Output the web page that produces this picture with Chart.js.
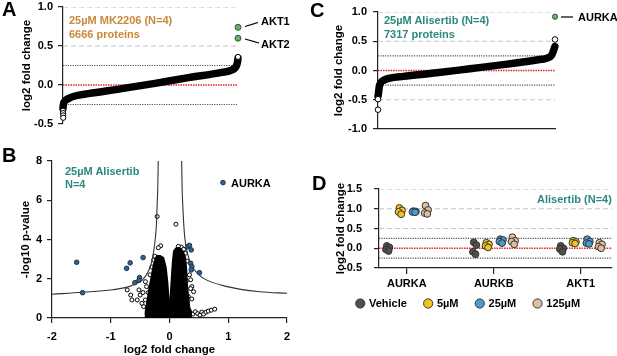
<!DOCTYPE html>
<html>
<head>
<meta charset="utf-8">
<title>proteomics panels</title>
<script src="https://cdn.jsdelivr.net/npm/chart.js@4.4.1/dist/chart.umd.min.js"></script>
<style>
  html, body { margin: 0; padding: 0; background: #fff; }
  body { position: relative; width: 617px; height: 356px; overflow: hidden;
         font-family: "Liberation Sans", Arial, sans-serif; }
  canvas { position: absolute; }
  .lbl { position: absolute; font-weight: bold; white-space: nowrap; line-height: 1; }
  svg { position: absolute; left: 0; top: 0; }
</style>
</head>
<body>
<canvas id="chartA" width="300" height="140" style="left:0px;top:0px"></canvas>
<canvas id="chartB" width="300" height="206" style="left:0px;top:150px"></canvas>
<canvas id="chartC" width="317" height="140" style="left:300px;top:0px"></canvas>
<canvas id="chartD" width="297" height="117" style="left:320px;top:175px"></canvas>
<canvas id="legendD" width="297" height="90" style="left:320px;top:280px"></canvas>
<svg width="617" height="356">
  <!-- leader lines for the labelled hits -->
  <g stroke="#000" stroke-width="1.2">
    <line x1="245" y1="26.5" x2="258" y2="22.5"/>
    <line x1="245" y1="39" x2="259" y2="43"/>
    <line x1="561" y1="17" x2="573" y2="17"/>
  </g>
</svg>
<script>
// ---------- data ----------

// A : ranked log2 fold change, 25uM MK2206
const nA = 6666;
const rankA = [0, 15, 76, 203, 457, 964, 2235, 3505, 4774, 6045, 6426, 6616, 6655, 6666];
const lfcA = [-0.30, -0.25, -0.205, -0.175, -0.141, -0.111, -0.047, 0.021, 0.094, 0.162, 0.192, 0.256, 0.31, 0.342];
const tailRankA = [0, 3, 6, 9, 6666];
const tailLfcA = [-0.33, -0.36, -0.39, -0.42, 0.36];
const hitRankA = [6666, 6666];   // AKT1, AKT2
const hitLfcA = [0.74, 0.60];

// C : ranked log2 fold change, 25uM Alisertib
const nC = 7317;
const rankC = [0, 14, 55, 110, 219, 496, 1047, 2425, 3802, 5179, 6557, 6970, 7177, 7272, 7310];
const lfcC = [-0.44, -0.41, -0.27, -0.21, -0.17, -0.13, -0.10, -0.04, 0.03, 0.10, 0.18, 0.21, 0.26, 0.36, 0.41];
const tailRankC = [0, 0, 7317];
const tailLfcC = [-0.67, -0.49, 0.53];
const hitRankC = [7317];         // AURKA
const hitLfcC = [0.92];

// B : volcano, 25uM Alisertib
const curveLeftB = [[-2.0, 1.21], [-1.48, 1.31], [-0.97, 1.44], [-0.69, 1.60], [-0.55, 1.78], [-0.46, 1.94],
  [-0.35, 2.45], [-0.30, 2.90], [-0.27, 3.38], [-0.24, 4.10], [-0.22, 4.90], [-0.21, 5.80], [-0.20, 6.60], [-0.19, 8.30]];
const curveRightB = [[0.205, 8.30], [0.215, 6.60], [0.225, 5.80], [0.24, 4.90], [0.26, 4.10], [0.30, 3.38],
  [0.34, 2.95], [0.385, 2.62], [0.47, 2.30], [0.58, 2.02], [0.98, 1.60], [1.54, 1.34], [2.0, 1.26]];
const cloudB = [[-0.40, 0], [-0.40, 0.35], [-0.37, 0.9], [-0.34, 1.5], [-0.30, 2.1], [-0.27, 2.6], [-0.24, 2.95],
  [-0.21, 3.15], [-0.16, 3.15], [-0.11, 3.05], [-0.07, 2.6], [-0.04, 1.8], [-0.02, 0.9], [0.0, 0.35], [0.02, 0.9],
  [0.04, 1.9], [0.06, 2.8], [0.08, 3.4], [0.12, 3.55], [0.17, 3.55], [0.22, 3.4], [0.26, 3.1], [0.28, 2.5],
  [0.29, 1.8], [0.31, 1.2], [0.33, 0.6], [0.35, 0.3], [0.36, 0]];
const openB = [[-0.21, 5.17], [-0.15, 3.68], [-0.19, 3.58], [-0.72, 1.43], [-0.66, 1.17], [-0.64, 0.92],
  [-0.52, 1.43], [-0.50, 1.17], [-0.55, 0.92], [-0.41, 1.85], [-0.39, 1.60], [-0.44, 0.58], [-0.41, 0.92],
  [-0.38, 0.24], [-0.45, 1.30], [-0.47, 0.75], [-0.36, 1.30], [-0.33, 2.20], [-0.30, 2.60], [-0.27, 2.95],
  [-0.32, 0.40], [-0.35, 0.70], [-0.25, 3.15], [0.11, 4.78], [0.38, 1.60], [0.41, 1.34], [0.38, 0.97],
  [0.36, 1.50], [0.30, 0.83], [0.27, 0.58], [0.36, 1.95], [0.34, 2.20], [0.30, 2.90], [0.27, 3.30],
  [0.20, 3.62], [0.15, 3.65], [0.24, 3.50], [0.33, 0.40], [0.35, 0.30], [0.40, 0.20], [0.44, 0.32],
  [0.48, 0.22], [0.52, 0.15], [0.55, 0.30], [0.58, 0.20], [0.62, 0.30], [0.66, 0.35], [0.71, 0.40],
  [0.77, 0.45], [0.32, 1.10], [0.29, 1.90]];
const sigB = [[-1.58, 2.84], [-1.48, 1.29], [-0.73, 2.53], [-0.67, 2.81], [-0.45, 3.08], [-0.59, 1.80],
  [-0.51, 2.06], [-0.52, 1.92], [0.31, 3.64], [0.34, 3.70], [0.37, 3.47], [0.36, 2.79], [0.38, 2.62],
  [0.37, 2.45], [0.51, 2.31]];
const aurkaB = [[0.91, 6.9]];

// D : selected proteins per dose (4 replicates, gene-major order)
const genesD = ['AURKA', 'AURKB', 'AKT1'];
const dosesD = ['Vehicle', '5µM', '25µM', '125µM'];
const doseOffsetD = [-0.22, -0.075, 0.085, 0.225];
const jitterD = [-0.01, 0.02, -0.02, 0.01];
const vehicleD = [0.06, 0.02, -0.03, -0.07, 0.15, 0.08, -0.09, -0.15, 0.06, 0.0, -0.02, -0.09];
const dose5D = [1.02, 0.96, 0.92, 0.86, 0.14, 0.10, 0.06, 0.02, 0.19, 0.16, 0.14, 0.12];
const dose25D = [0.94, 0.93, 0.92, 0.91, 0.23, 0.21, 0.17, 0.13, 0.23, 0.17, 0.13, 0.11];
const dose125D = [1.08, 0.97, 0.89, 0.87, 0.28, 0.19, 0.17, 0.10, 0.14, 0.10, 0.04, 0.0];

// threshold lines
const dottedLevels = [0.25, -0.25];
const dashedA = [1.0, 0.5];
const dashedC = [1.0, 0.5, -0.5];
const dashedD = [1.5, 1.0, 0.5];

// ---------- style ----------
const GREY = '#c4c4c4', DOTC = '#555', RED = '#e3262b', AXIS = '#222';
const GREEN = '#6cae6a', ORANGE = '#c8893b', TEAL = '#2b8a7e';
const doseFill = ['#4f4f4f', '#f4c51c', '#4b9dcf', '#dcc09f'];

Chart.defaults.font.family = "'Liberation Sans', Arial, sans-serif";
Chart.defaults.font.weight = 'bold';
Chart.defaults.font.size = 11;
Chart.defaults.color = '#000';
Chart.defaults.animation = false;
Chart.defaults.responsive = false;
Chart.defaults.events = [];
Chart.defaults.plugins.legend.display = false;
Chart.defaults.plugins.tooltip.enabled = false;

const xy = (xs, ys) => xs.map((x, i) => ({ x, y: ys[i] }));
const pairs = arr => arr.map(([x, y]) => ({ x, y }));

// scales keep exactly the box size given, no extra edge padding for labels
function fixBox(s, w, h) {
  if (w !== undefined) s.width = w;
  if (h !== undefined) s.height = h;
  s.paddingTop = s.paddingBottom = s.paddingLeft = s.paddingRight = 0;
}

function refLines(levels, x0, x1, color, dash, width) {
  return levels.map(y => ({
    data: [{ x: x0, y }, { x: x1, y }], showLine: true, pointRadius: 0,
    borderColor: color, borderDash: dash, borderWidth: width
  }));
}
function guides(dashed, x0, x1) {
  return [
    ...refLines([0], x0, x1, RED, [1.5, 1], 1.3),
    ...refLines(dottedLevels, x0, x1, DOTC, [1.2, 1.2], 1.2),
    ...refLines(dashed, x0, x1, GREY, [5, 3], 1)
  ];
}

function yAxis(o) {
  return {
    type: 'linear', min: o.min, max: o.max,
    ticks: { stepSize: o.step, padding: o.tickPad, autoSkip: false, color: '#000', font: { size: 11, weight: 'bold' },
             callback: v => o.dec ? v.toFixed(1) : String(v) },
    grid: { drawOnChartArea: false, drawTicks: true, tickLength: 5, color: AXIS, lineWidth: 1.2 },
    border: { display: true, color: AXIS, width: 1.2 },
    title: { display: true, text: o.title, color: '#000', font: { size: 11.5, weight: 'bold' },
             padding: { top: o.titlePad, bottom: 0 } },
    afterFit: s => fixBox(s, o.width)
  };
}

// ---------- A ----------
new Chart(document.getElementById('chartA'), {
  type: 'scatter',
  data: { datasets: [
    { data: xy(hitRankA, hitLfcA), pointRadius: 3, backgroundColor: GREEN, borderColor: '#2d5f34', borderWidth: 1, clip: false },
    { data: xy(tailRankA, tailLfcA), pointRadius: 2.6, backgroundColor: '#fff', borderColor: '#000', borderWidth: 1, clip: false },
    { data: xy(rankA, lfcA), showLine: true, pointRadius: 0, borderColor: '#000', borderWidth: 7.5,
      cubicInterpolationMode: 'monotone', borderCapStyle: 'round', borderJoinStyle: 'round', clip: false },
    ...guides(dashedA, 0, nA)
  ] },
  options: {
    layout: { padding: { left: 0, top: 7, right: 62, bottom: 16 } },
    scales: {
      x: { type: 'linear', display: false, min: 0, max: nA },
      y: yAxis({ min: -0.5, max: 1.0, step: 0.5, dec: true, tickPad: 5, width: 63, titlePad: 20, title: 'log2 fold change' })
    }
  }
});

// ---------- C ----------
new Chart(document.getElementById('chartC'), {
  type: 'scatter',
  data: { datasets: [
    { data: xy(hitRankC, hitLfcC), pointRadius: 2.6, backgroundColor: GREEN, borderColor: '#2d5f34', borderWidth: 1, clip: false },
    { data: xy(tailRankC, tailLfcC), pointRadius: 2.8, backgroundColor: '#fff', borderColor: '#000', borderWidth: 1, clip: false },
    { data: xy(rankC, lfcC), showLine: true, pointRadius: 0, borderColor: '#000', borderWidth: 7.5,
      cubicInterpolationMode: 'monotone', borderCapStyle: 'round', borderJoinStyle: 'round', clip: false },
    ...guides(dashedC, 0, nC)
  ] },
  options: {
    layout: { padding: { left: 0, top: 12, right: 62, bottom: 11 } },
    scales: {
      x: { type: 'linear', min: 0, max: nC, ticks: { display: false }, grid: { display: false },
           border: { display: true, color: AXIS, width: 1.2 }, afterFit: s => fixBox(s, undefined, 0) },
      y: yAxis({ min: -1.0, max: 1.0, step: 0.5, dec: true, tickPad: 6, width: 78, titlePad: 32, title: 'log2 fold change' })
    }
  }
});

// ---------- B ----------
new Chart(document.getElementById('chartB'), {
  type: 'scatter',
  data: { datasets: [
    { data: pairs(aurkaB), pointRadius: 2.3, backgroundColor: '#34608a', borderColor: '#1a3350', borderWidth: 1 },
    { data: pairs(sigB), pointRadius: 2.3, backgroundColor: '#34608a', borderColor: '#1a3350', borderWidth: 1 },
    { data: pairs(curveLeftB), showLine: true, pointRadius: 0, borderColor: '#333', borderWidth: 1.1, cubicInterpolationMode: 'monotone' },
    { data: pairs(curveRightB), showLine: true, pointRadius: 0, borderColor: '#333', borderWidth: 1.1, cubicInterpolationMode: 'monotone' },
    { data: pairs(cloudB), showLine: true, pointRadius: 0, borderColor: '#000', borderWidth: 2.5,
      backgroundColor: '#000', fill: 'origin', borderJoinStyle: 'round' },
    { data: pairs(openB), pointRadius: 2, backgroundColor: '#fff', borderColor: '#000', borderWidth: 1 }
  ] },
  options: {
    layout: { padding: { left: 0, top: 11, right: 13, bottom: 0 } },
    scales: {
      x: {
        type: 'linear', min: -2, max: 2,
        ticks: { stepSize: 1, padding: 7, color: '#000', font: { size: 11, weight: 'bold' } },
        grid: { drawOnChartArea: false, drawTicks: true, tickLength: 5, color: AXIS, lineWidth: 1.2 },
        border: { display: true, color: AXIS, width: 1.2 },
        title: { display: true, text: 'log2 fold change', color: '#000', font: { size: 11.5, weight: 'bold' }, padding: { top: 0, bottom: -1 } },
        afterFit: s => fixBox(s, undefined, 38)
      },
      y: yAxis({ min: 0, max: 8, step: 2, dec: false, tickPad: 5, width: 52, titlePad: 19, title: '-log10 p-value' })
    }
  }
});

// ---------- D ----------
const xMinD = -0.32, xMaxD = 2.36;
const doseSeries = [vehicleD, dose5D, dose25D, dose125D];
const doseStyle = d => ({ label: dosesD[d], backgroundColor: doseFill[d], borderColor: '#333', borderWidth: 1 });
new Chart(document.getElementById('chartD'), {
  type: 'scatter',
  data: { datasets: [
    ...doseSeries.map((vals, d) => ({
      ...doseStyle(d),
      data: vals.map((y, k) => ({ x: Math.floor(k / 4) + doseOffsetD[d] + jitterD[k % 4], y })),
      pointRadius: 3.4, clip: false
    })),
    ...guides(dashedD, xMinD, xMaxD)
  ] },
  options: {
    layout: { padding: { left: 19, top: 14, right: 0, bottom: 0 } },
    scales: {
      x: {
        type: 'linear', min: xMinD, max: xMaxD,
        afterBuildTicks: s => { s.ticks = genesD.map((g, i) => ({ value: i })); },
        ticks: { autoSkip: false, padding: 3, color: '#000', font: { size: 11, weight: 'bold' }, callback: v => genesD[v] },
        grid: { drawOnChartArea: false, drawTicks: true, tickLength: 6, color: AXIS, lineWidth: 1.2 },
        border: { display: true, color: AXIS, width: 1.2 },
        afterFit: s => fixBox(s, undefined, 24)
      },
      y: yAxis({ min: -0.5, max: 1.5, step: 0.5, dec: true, tickPad: 12, width: 40, titlePad: -5.5, title: 'log2 fold change' })
    }
  }
});

// legend of panel D, built by Chart.js from the same dose series
new Chart(document.getElementById('legendD'), {
  type: 'scatter',
  data: { datasets: dosesD.map((name, d) => ({ ...doseStyle(d), data: [] })) },
  options: {
    layout: { padding: { left: 19, top: 0, right: 0, bottom: 0 } },
    scales: { x: { display: false }, y: { display: false } },
    plugins: {
      legend: {
        display: true, position: 'top', align: 'start',
        labels: { usePointStyle: true, pointStyle: 'circle', boxWidth: 6.5, boxHeight: 6.5, padding: 18,
                  color: '#000', font: { size: 11, weight: 'bold' } }
      }
    }
  }
});

// ---------- text annotations ----------
const notes = [
  ['A', 2, 9, 20, '#000'], ['B', 2, 154.5, 20, '#000'], ['C', 310, 9.5, 20, '#000'], ['D', 312, 182.5, 20, '#000'],
  ['25µM MK2206 (N=4)', 69, 20, 11, ORANGE], ['6666 proteins', 69, 34, 11, ORANGE],
  ['AKT1', 261, 21, 11, '#000'], ['AKT2', 261, 44, 11, '#000'],
  ['25µM Alisertib (N=4)', 384, 20, 11, TEAL], ['7317 proteins', 384, 34, 11, TEAL],
  ['AURKA', 578, 17, 11, '#000'],
  ['25µM Alisertib', 65, 171.5, 11, TEAL], ['N=4', 65, 184, 11, TEAL],
  ['AURKA', 231, 183, 11, '#000'],
  ['Alisertib (N=4)', 537, 199, 11, TEAL]
];
notes.forEach(([text, x, cy, size, color]) => {
  const d = document.createElement('div');
  d.className = 'lbl';
  d.textContent = text;
  d.style.left = x + 'px';
  d.style.top = (cy - 0.49 * size) + 'px';
  d.style.fontSize = size + 'px';
  d.style.color = color;
  document.body.appendChild(d);
});
</script>
</body>
</html>
